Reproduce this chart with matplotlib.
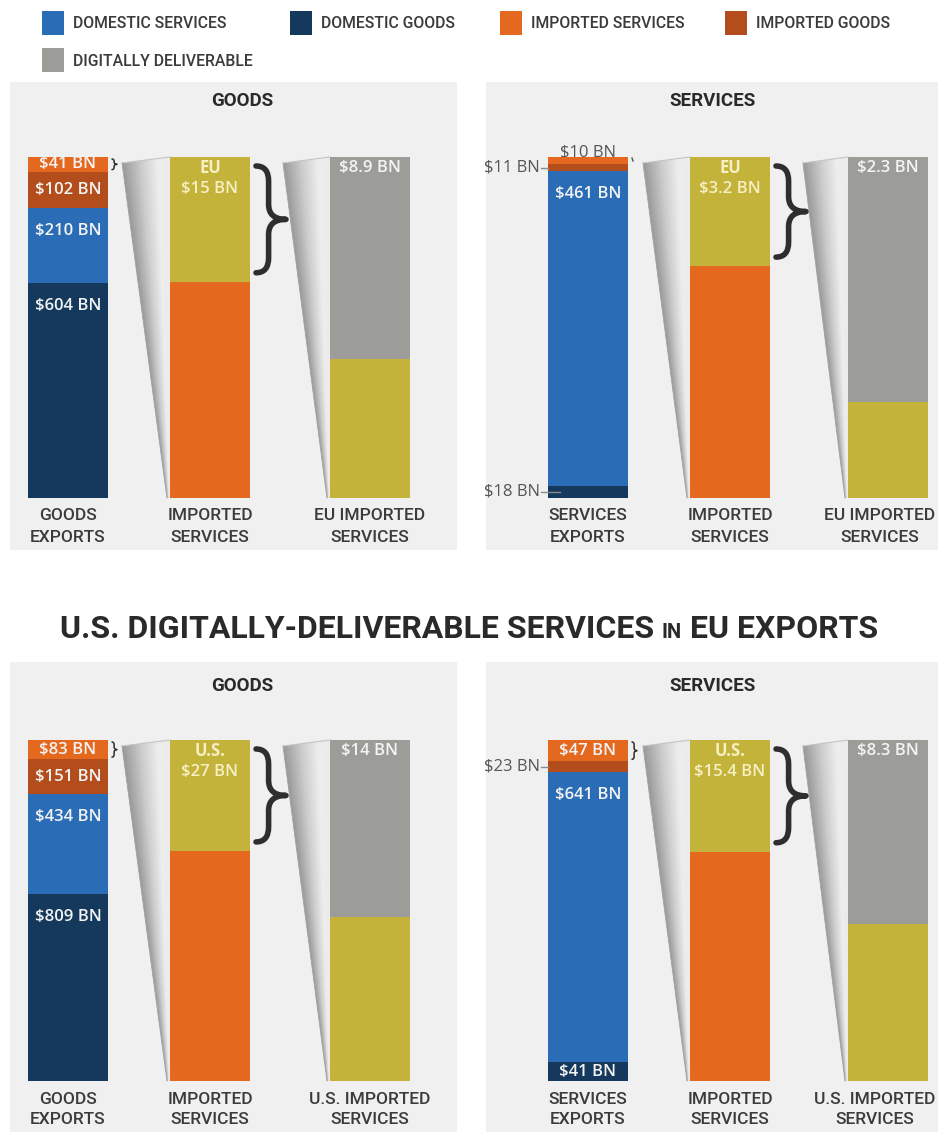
import matplotlib
matplotlib.use('Agg')
import matplotlib.pyplot as plt
import numpy as np
from matplotlib import font_manager
from matplotlib.path import Path
from matplotlib.patches import PathPatch, Polygon, Rectangle

# value added in exports, billions of USD, top to bottom of the stack:
# imported services, imported goods, domestic services, domestic goods
eu_in_us_goods = [41, 102, 210, 604]
eu_in_us_services = [10, 11, 461, 18]
us_in_eu_goods = [83, 151, 434, 809]
us_in_eu_services = [47, 23, 641, 41]

# partner share of the imported services and its digitally deliverable part
partner_names = ['EU', 'EU', 'U.S.', 'U.S.']
partner_share = [15, 3.2, 27, 15.4]
digital_share = [8.9, 2.3, 14, 8.3]

legend_labels = ['DOMESTIC SERVICES', 'DOMESTIC GOODS', 'IMPORTED SERVICES',
                 'IMPORTED GOODS', 'DIGITALLY DELIVERABLE']
panel_titles = ['GOODS', 'SERVICES', 'GOODS', 'SERVICES']
export_labels = [['GOODS', 'EXPORTS'], ['SERVICES', 'EXPORTS'],
                 ['GOODS', 'EXPORTS'], ['SERVICES', 'EXPORTS']]
imported_labels = [['IMPORTED', 'SERVICES']] * 4
partner_labels = [['EU IMPORTED', 'SERVICES'], ['EU IMPORTED', 'SERVICES'],
                  ['U.S. IMPORTED', 'SERVICES'], ['U.S. IMPORTED', 'SERVICES']]
main_title = ['U.S. DIGITALLY-DELIVERABLE SERVICES', 'IN', 'EU EXPORTS']

exports = [eu_in_us_goods, eu_in_us_services, us_in_eu_goods, us_in_eu_services]

C_DOM_SERV = '#2a6cb5'
C_DOM_GOODS = '#14395c'
C_IMP_SERV = '#e5681f'
C_IMP_GOODS = '#b34e1c'
C_DIGITAL = '#9c9c98'
C_PARTNER = '#c3b33a'
C_PANEL = '#f0f0f0'
C_TEXT = '#3b3b3b'
stack_colors = [C_IMP_SERV, C_IMP_GOODS, C_DOM_SERV, C_DOM_GOODS]
legend_colors = [C_DOM_SERV, C_DOM_GOODS, C_IMP_SERV, C_IMP_GOODS, C_DIGITAL]

available = {f.name for f in font_manager.fontManager.ttflist}
SANS = 'Roboto' if 'Roboto' in available else 'DejaVu Sans'
PLAIN = 'Open Sans' if 'Open Sans' in available else 'DejaVu Sans'

W, H = 938, 1132
BAR_W = 80
BAR_H = 341

# panel layout: (x0, x1, y0, y1), bar centres, bar top, title position
panels = [
    ((10, 457, 82, 550), (68, 210, 370), 157, (242, 101)),
    ((486, 938, 82, 550), (588, 730, 888), 157, (712, 101)),
    ((10, 457, 662, 1140), (68, 210, 370), 740, (242, 686)),
    ((486, 938, 662, 1140), (588, 730, 888), 740, (712, 686)),
]

fig = plt.figure(figsize=(W / 100, H / 100), dpi=100)
ax = fig.add_axes([0, 0, 1, 1])
ax.set_xlim(0, W)
ax.set_ylim(H, 0)
ax.axis('off')
renderer = fig.canvas.get_renderer()


def stack(xc, top, values, colors):
    scale = BAR_H / sum(values)
    heights = np.array(values, dtype=float) * scale
    bottoms = top + np.concatenate([[0], np.cumsum(heights)[:-1]])
    ax.bar([xc] * len(values), heights, bottom=bottoms, width=BAR_W,
           color=colors, zorder=3, linewidth=0)
    return bottoms, heights


def brace(x0, y0, y1, w, lw, color='#2e2e2e'):
    xm = x0 + w * 0.42
    ym = (y0 + y1) / 2
    r = min(w * 0.5, (y1 - y0) * 0.2)
    verts = [(x0, y0), (xm, y0), (xm, y0 + r),
             (xm, ym - r), (xm, ym), (x0 + w, ym),
             (xm, ym), (xm, ym + r),
             (xm, y1 - r), (xm, y1), (x0, y1)]
    codes = [Path.MOVETO, Path.CURVE3, Path.CURVE3, Path.LINETO,
             Path.CURVE3, Path.CURVE3, Path.CURVE3, Path.CURVE3,
             Path.LINETO, Path.CURVE3, Path.CURVE3]
    ax.add_patch(PathPatch(Path(verts, codes), facecolor='none', edgecolor=color,
                           lw=lw, capstyle='round', joinstyle='round', zorder=4))


def sheet(tip_x, tip_y, right_x, top, bottom):
    # shaded "zoom" sheet leading into the next bar
    foot = right_x - 3
    poly = Polygon([(tip_x, tip_y), (right_x, top), (right_x, bottom), (foot, bottom)],
                   closed=True, facecolor='none', edgecolor='none')
    ax.add_patch(poly)
    ys = np.linspace(top, bottom, 300)
    xs = np.linspace(tip_x, right_x, 120)
    X, Y = np.meshgrid(xs, ys)
    t = np.clip((Y - tip_y) / (bottom - tip_y), 0, 1)
    left = tip_x + (foot - tip_x) * t
    u = np.clip((X - left) / np.maximum(right_x - left, 1e-6), 0, 1)
    shade = np.interp(u, [0, 0.4, 0.75, 1], [0.6, 0.8, 0.93, 0.92])
    im = ax.imshow(shade, cmap='gray', vmin=0, vmax=1, aspect='auto',
                   extent=(tip_x, right_x, bottom, top), origin='upper',
                   interpolation='bilinear', zorder=2)
    im.set_clip_path(poly)
    ax.plot([tip_x, foot], [tip_y, bottom], color='#a0a0a0', lw=0.6, zorder=2)
    ax.plot([tip_x, right_x], [tip_y, top], color='#c4c4c4', lw=0.8, zorder=2)


def money(v):
    return f'${v:g} BN'


# legend
legend_pos = [(42, 23), (290, 23), (500, 23), (725, 23), (42, 60)]
for (lx, ly), lab, col in zip(legend_pos, legend_labels, legend_colors):
    ax.add_patch(Rectangle((lx, ly - 12), 22, 24, color=col, lw=0))
    ax.text(lx + 31, ly + 1, lab, fontsize=11.3, family=SANS, weight='medium',
            color=C_TEXT, va='center', ha='left')

for i, (rect, centres, top, tpos) in enumerate(panels):
    x0, x1, y0, y1 = rect
    ax.add_patch(Rectangle((x0, y0), x1 - x0, y1 - y0, color=C_PANEL, lw=0, zorder=0))
    ax.text(tpos[0], tpos[1], panel_titles[i], fontsize=13.5, family=SANS,
            weight='bold', color='#2a2a2a', ha='center', va='center')

    bottom = top + BAR_H
    c1, c2, c3 = centres

    # export stack
    vals = exports[i]
    bots, hts = stack(c1, top, vals, stack_colors)
    for j, (v, b, h) in enumerate(zip(vals, bots, hts)):
        if h >= 14:
            ax.text(c1, b + min(h / 2, 23), money(v), fontsize=12, family=PLAIN,
                    weight='semibold', color='#f3f3f3', ha='center', va='center',
                    zorder=5)
        elif j == 0:
            ax.text(c1, top - 5, money(v), fontsize=12, family=PLAIN,
                    color='#555555', ha='center', va='center', zorder=2)
        else:
            yl = b + h / 2
            ax.text(c1 - BAR_W / 2 - 8, yl, money(v), fontsize=12, family=PLAIN,
                    color='#555555', ha='right', va='center', zorder=5)
            ax.plot([c1 - BAR_W / 2 - 7, c1 - BAR_W / 2 + (12 if j == 3 else 0)],
                    [yl, yl], color='#8a8a8a', lw=1, zorder=5)
    if hts[0] >= 14:
        brace(c1 + BAR_W / 2 + 4, bots[0] + 2, bots[0] + hts[0] - 2, 5, 1.1)
    else:
        ax.plot([c1 + BAR_W / 2 + 4, c1 + BAR_W / 2 + 5], [top + 1, top + 4],
                color='#555555', lw=1.0, zorder=4)

    # imported services, with the partner share on top
    imp = vals[0]
    pb, ph = stack(c2, top, [partner_share[i], imp - partner_share[i]],
                   [C_PARTNER, C_IMP_SERV])
    ax.text(c2, top + 11, partner_names[i], fontsize=12, family=PLAIN, weight='bold',
            color='#f6f0c4', ha='center', va='center', zorder=5)
    ax.text(c2, top + 32, money(partner_share[i]), fontsize=12, family=PLAIN,
            weight='semibold', color='#f6f0c4', ha='center', va='center', zorder=5)
    brace(c2 + BAR_W / 2 + 6, top + 9, top + ph[0] - 9, 30, 4.0)

    # digitally deliverable part of the partner share
    stack(c3, top, [digital_share[i], partner_share[i] - digital_share[i]],
          [C_DIGITAL, C_PARTNER])
    ax.text(c3, top + 11, money(digital_share[i]), fontsize=12, family=PLAIN,
            weight='semibold', color='#f4f4f4', ha='center', va='center', zorder=5)

    # shaded sheets between the bars
    tip1 = c1 + BAR_W / 2 + (14 if i % 2 == 0 else 15)
    sheet(tip1, top + 6, c2 - BAR_W / 2, top, bottom)
    sheet(c2 + BAR_W / 2 + 33, top + 6, c3 - BAR_W / 2, top, bottom)

    # category labels under the bars, kept inside the panel
    for xc, lines in zip(centres, [export_labels[i], imported_labels[i], partner_labels[i]]):
        texts = [ax.text(xc, bottom + 18 + 21 * k, line, fontsize=12.5, family=SANS,
                         weight='medium', color=C_TEXT, ha='center', va='center')
                 for k, line in enumerate(lines)]
        right = max(t.get_window_extent(renderer).x1 for t in texts)
        if right > x1 - 3:
            for t in texts:
                px, py = t.get_position()
                t.set_position((px - (right - (x1 - 3)), py))

# main title, with a smaller "IN"
sizes = [23, 14.5, 23]
pieces = [ax.text(0, 638, s, fontsize=size, family=SANS, weight='bold',
                  color='#2a2a2a', ha='left', va='baseline')
          for s, size in zip(main_title, sizes)]
gap = 8
widths = [p.get_window_extent(renderer).width for p in pieces]
x = W / 2 - (sum(widths) + gap * 2) / 2
for p, w in zip(pieces, widths):
    p.set_position((x, 638))
    x += w + gap

ax.set_xlim(0, W)
ax.set_ylim(H, 0)
fig.savefig('out.png', dpi=100, facecolor='white')
